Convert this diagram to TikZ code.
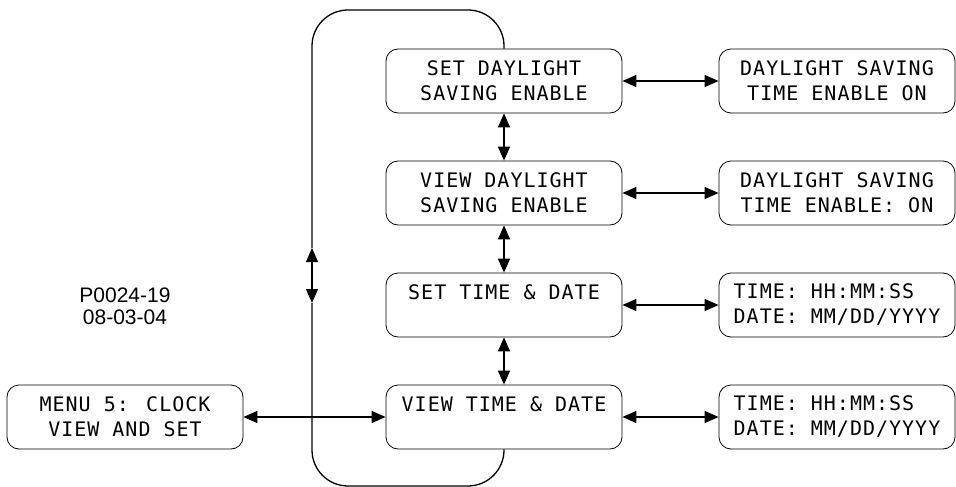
\documentclass[tikz,border=0pt]{standalone}
\usepackage{fontspec}
\newfontfamily\lcdfont[LetterSpace=5]{DejaVu Sans Mono}
\newfontfamily\tagfont{Liberation Sans}
\usepackage{tikz}
\usetikzlibrary{positioning, arrows.meta}

\begin{document}
\begin{tikzpicture}[x=1pt,y=-1pt,>={Triangle[length=14pt,width=12pt]}]
						\tikzstyle{box}=[draw=black,line width=0.8pt,rounded corners=12pt,minimum width=236pt,minimum height=64pt,inner sep=0pt,align=center,font=\lcdfont\fontsize{20}{25}\selectfont]
						\tikzstyle{link}=[<->,line width=1.2pt]
						\useasboundingbox (0,0) rectangle (956,487);
						\node[box](menu) at (125,417) {MENU 5: CLOCK\\VIEW AND SET};
						\node[box](b1) at (504,81) {SET DAYLIGHT\\SAVING ENABLE};
						\node[box](b2) at (504,193) {VIEW DAYLIGHT\\SAVING ENABLE};
						\node[box](b3) at (504,305) {SET TIME \& DATE\\~};
						\node[box](b4) at (504,417) {VIEW TIME \& DATE\\~};
						\node[box](r1) at (837,81) {DAYLIGHT SAVING\\TIME ENABLE ON};
						\node[box](r2) at (837,193) {DAYLIGHT SAVING\\TIME ENABLE: ON};
						\node[box,align=left](r3) at (837,305) {TIME: HH:MM:SS\\DATE: MM/DD/YYYY};
						\node[box,align=left](r4) at (837,417) {TIME: HH:MM:SS\\DATE: MM/DD/YYYY};
						\node[align=center,font=\tagfont\fontsize{21}{22}\selectfont](tag) at (125,306) {P0024-19\\08-03-04};
						\draw[link](menu) -- (b4);
						\draw[link](b1) -- (r1);
						\draw[link](b2) -- (r2);
						\draw[link](b3) -- (r3);
						\draw[link](b4) -- (r4);
						\draw[link](b1) -- (b2);
						\draw[link](b2) -- (b3);
						\draw[link](b3) -- (b4);
						% loop back from the last to the first entry
						\coordinate (up) at (312,248);
						\coordinate (dn) at (312,303);
						\draw[line width=1.3pt,rounded corners=36pt](b1.north) |- (312,10) -- (up);
						\draw[link](dn) -- (up);
						\draw[line width=1.3pt,rounded corners=36pt](dn) -- (312,486) -| (b4.south);
					\end{tikzpicture}
\end{document}
